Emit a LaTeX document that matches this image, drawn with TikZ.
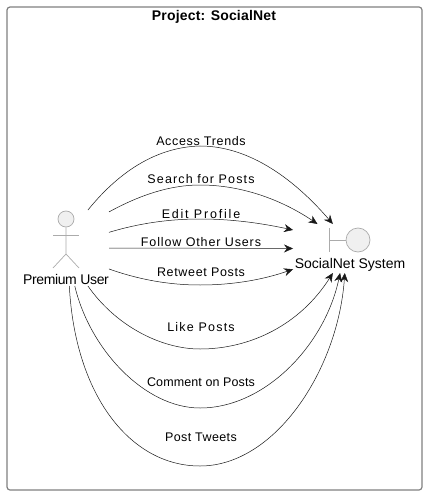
\documentclass[tikz,border=0pt]{standalone}
\usepackage{fontspec}
\setmainfont{Liberation Sans}
\usetikzlibrary{arrows.meta}

\tikzset{
	frameline/.style={draw=black!50,line width=1.2pt,rounded corners=3pt},
	partline/.style={draw=black!33,line width=0.7pt},
	ballshape/.style={partline,circle,fill=black!6,inner sep=0pt},
	zone/.style={inner sep=0pt,outer sep=0pt},
	usecase/.style={draw=black!90,line width=0.5pt,-{Stealth[length=9pt,width=8pt,inset=3pt]}},
	edgelab/.style={font=\fontsize{12.5}{14}\selectfont\addfontfeature{LetterSpace=#1},inner sep=0pt},
	mainlab/.style={font=\fontsize{14}{16}\selectfont\addfontfeature{LetterSpace=#1},inner sep=0pt}
}

\begin{document}
\begin{tikzpicture}[x=1pt,y=-1pt]
	\useasboundingbox (0,0) rectangle (428,497);
	\draw[frameline] (7,7) rectangle (422,490);
	\node[font=\bfseries\fontsize{14}{16}\selectfont\addfontfeature{LetterSpace=1.3},inner sep=0pt] (title) at (214,17) {Project: SocialNet};
	
	%actor
	\node[ballshape,minimum size=16pt] (head) at (66,219) {};
	\coordinate (hip) at (66,254);
	\coordinate (lfoot) at (53,268);
	\coordinate (rfoot) at (79,268);
	\coordinate (larm) at (53,235);
	\coordinate (rarm) at (79,235);
	\draw[partline] (head) -- (hip) -- (lfoot);
	\draw[partline] (hip) -- (rfoot);
	\draw[partline] (larm) -- (rarm);
	\node[mainlab=-2.6] (userlabel) at (66,279) {Premium User};
	
	%boundary
	\node[ballshape,minimum size=24pt] (circ) at (358,240) {};
	\coordinate (bartop) at (329,228);
	\coordinate (barbot) at (329,252);
	\coordinate (barmid) at (329,240);
	\draw[partline] (bartop) -- (barbot);
	\draw[partline] (barmid) -- (circ);
	\node[mainlab=0] (syslabel) at (350,265) {SocialNet System};
	
	%boxes the arrows stop at
	\node[zone,minimum width=86pt,minimum height=76pt] (user) at (66,248) {};
	\node[zone,minimum width=114pt,minimum height=49pt] (system) at (350,248.5) {};
	
	\draw[usecase] (user.60) .. controls (122,168) and (160,147) .. (200,146) .. controls (250,146) and (295,180) .. (system.125);
	\draw[usecase] (user.40) .. controls (140,195) and (170,185) .. (200,185) .. controls (245,185) and (285,202) .. (system.143);
	\draw[usecase] (user.20) .. controls (140,223) and (170,219) .. (200,219) .. controls (235,219) and (265,224) .. (system.162);
	\draw[usecase] (user.0) -- (system.180);
	\draw[usecase] (user.-26) .. controls (140,280) and (170,285) .. (200,285) .. controls (235,285) and (265,279) .. (system.200);
	\draw[usecase] (user.-60) .. controls (115,325) and (160,349) .. (200,349) .. controls (250,349) and (300,325) .. (system.235);
	\draw[usecase] (user.-77) .. controls (90,350) and (145,408) .. (200,408) .. controls (265,408) and (325,345) .. (system.248);
	\draw[usecase] (user.-85) .. controls (75,395) and (130,466) .. (200,466) .. controls (275,466) and (338,370) .. (system.258);
	
	\node[edgelab=5.3] (trends) at (201,141) {Access Trends};
	\node[edgelab=9] (search) at (201,179) {Search for Posts};
	\node[edgelab=14.4] (edit) at (201,214) {Edit Profile};
	\node[edgelab=7] (follow) at (201,242) {Follow Other Users};
	\node[edgelab=5.3] (retweet) at (201,272) {Retweet Posts};
	\node[edgelab=9.8] (like) at (201,327) {Like Posts};
	\node[edgelab=1] (comment) at (201,382) {Comment on Posts};
	\node[edgelab=3.2] (tweets) at (201,437) {Post Tweets};
\end{tikzpicture}
\end{document}
